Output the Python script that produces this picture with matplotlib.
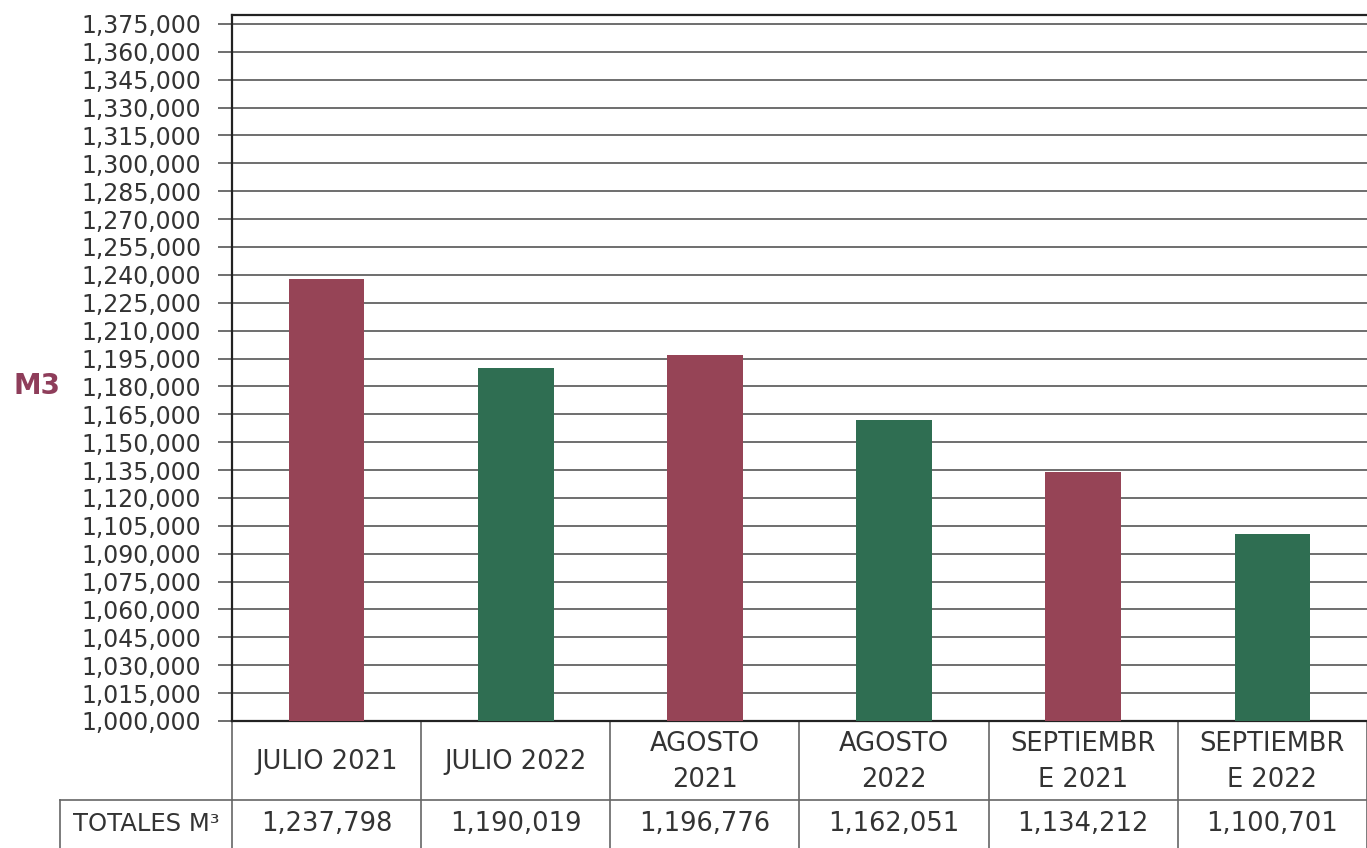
import matplotlib
matplotlib.use('Agg')
from matplotlib import pyplot as plt
from matplotlib import transforms
from matplotlib.ticker import FuncFormatter

categories = ['JULIO 2021', 'JULIO 2022', 'AGOSTO\n2021', 'AGOSTO\n2022',
              'SEPTIEMBR\nE 2021', 'SEPTIEMBR\nE 2022']
totals = [1237798, 1190019, 1196776, 1162051, 1134212, 1100701]
bar_colors = ['#964456', '#2f6e52', '#964456', '#2f6e52', '#964456', '#2f6e52']
yticks = list(range(1000000, 1375001, 15000))

plt.rcParams['font.family'] = ['DejaVu Sans']

fig = plt.figure(figsize=[13.67, 8.48], dpi=100)
ax = fig.add_axes([0.1697, 0.1498, 0.8303, 0.8325])

x = list(range(len(categories)))
ax.bar(x, totals, width=0.4, color=bar_colors, zorder=3)

ax.set_xlim(-0.5, len(categories) - 0.5)
ax.set_ylim(1000000, 1379800)
ax.set_yticks(yticks)
ax.yaxis.set_major_formatter(FuncFormatter(lambda v, p: f'{int(v):,}'))
ax.tick_params(axis='y', labelsize=17, labelcolor='#333333', length=10,
               width=1.2, color='#555555', pad=12)
ax.tick_params(axis='x', bottom=False, labelbottom=False)
ax.grid(axis='y', color='#555555', linewidth=1.2, zorder=0)

for side in ['left', 'top', 'bottom']:
    ax.spines[side].set_color('#222222')
    ax.spines[side].set_linewidth(1.6)
ax.spines['right'].set_visible(False)

ax.set_ylabel('M3', rotation=0, fontsize=20, fontweight='bold',
              color='#8e3d5a', labelpad=0, ha='center', va='center')
ax.yaxis.set_label_coords(-0.172, 0.475)

# data table below the axes
trans = transforms.blended_transform_factory(ax.transData, fig.transFigure)
y_top, y_mid, y_bot = 0.1498, 0.0566, 0.0
line_kw = dict(color='#666666', linewidth=1.2, transform=trans, clip_on=False)

for i in range(len(categories) + 1):
    xb = i - 0.5
    ax.plot([xb, xb], [y_top, y_bot], **line_kw)
ax.plot([-0.5, len(categories) - 0.5], [y_mid, y_mid], **line_kw)

fig.add_artist(plt.Line2D([0.044, 0.1697], [y_mid, y_mid],
                          color='#666666', linewidth=1.2))
fig.add_artist(plt.Line2D([0.044, 0.044], [y_mid, y_bot],
                          color='#666666', linewidth=1.2))

for i, (cat, val) in enumerate(zip(categories, totals)):
    ax.text(i, (y_top + y_mid) / 2 - 0.002, cat, transform=trans, ha='center',
            va='center', fontsize=18.5, color='#333333', linespacing=1.5)
    ax.text(i, y_mid / 2, f'{val:,}', transform=trans, ha='center',
            va='center', fontsize=18.5, color='#333333')

fig.text(0.107, y_mid / 2, 'TOTALES M³', ha='center', va='center',
         fontsize=17.5, color='#333333')

fig.savefig('out.png', dpi=100)
